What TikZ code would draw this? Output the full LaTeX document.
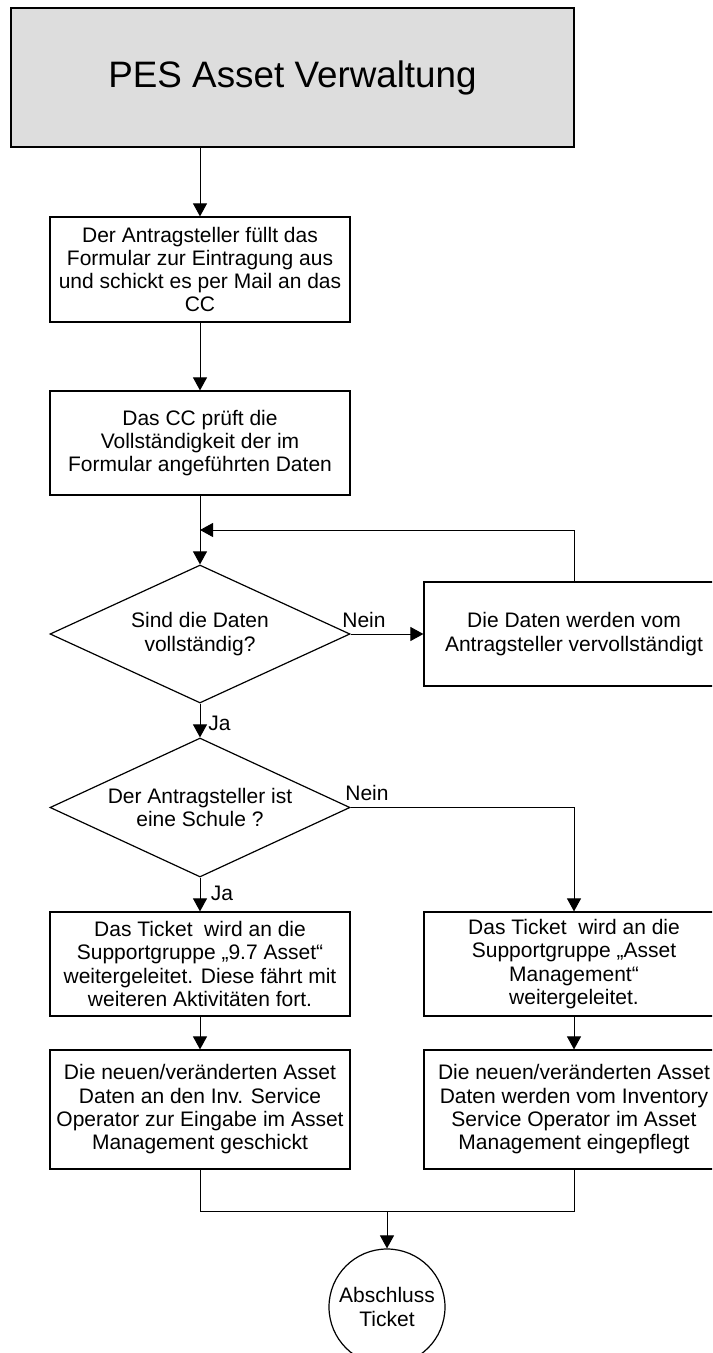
\documentclass[tikz,border=0pt]{standalone}
\usepackage{fontspec}
\setmainfont{Liberation Sans}
\usetikzlibrary{shapes.geometric,arrows.meta}
\definecolor{titlegray}{HTML}{DDDDDD}
\begin{document}
\begin{tikzpicture}[x=0.5pt,y=-0.5pt,
  every node/.style={font=\fontsize{10.5pt}{11.65pt}\selectfont},
  stepbox/.style={draw=black,line width=0.6pt,fill=white,rectangle,
    minimum width=150pt,inner sep=0pt,align=center},
  decision/.style={draw=black,line width=0.6pt,fill=white,diamond,aspect=2.16,
    minimum width=150pt,inner sep=0pt,align=center},
  endnode/.style={draw=black,line width=0.6pt,fill=white,circle,
    minimum size=58pt,inner sep=0pt,align=center},
  conn/.style={line width=0.5pt,draw=black},
  arr/.style={conn,-{Triangle[length=6.5pt,width=7pt]}},
  lbl/.style={inner sep=0pt}]
\useasboundingbox (0,0) rectangle (712,1353);
\clip (0,0) rectangle (712,1353);

% title
\node[draw=black,line width=0.6pt,fill=titlegray,minimum width=281.5pt,minimum height=69.5pt,
  inner sep=0pt,font=\fontsize{18.4pt}{22pt}\selectfont] (title) at (292.5,77.5) {PES Asset Verwaltung};

% main column
\node[stepbox,minimum height=52.5pt] (b1) at (200,269.5)
  {Der Antragsteller füllt das\\Formular zur Eintragung aus\\und schickt es per Mail an das\\CC};
\node[stepbox,minimum height=52pt] (b2) at (200,443)
  {Das CC prüft die\\Vollständigkeit der im\\Formular angeführten Daten};
\node[decision,minimum height=69pt] (d1) at (200,634)
  {Sind die Daten\\vollständig?};
\node[stepbox,minimum height=52pt] (r1) at (574,634)
  {Die Daten werden vom\\Antragsteller vervollständigt};
\node[decision,minimum height=69.5pt] (d2) at (200,807.5)
  {Der Antragsteller ist\\eine Schule ?};
\node[stepbox,minimum height=52pt] (b3) at (200,964)
  {Das Ticket~ wird an die\\Supportgruppe „9.7 Asset“\\weitergeleitet. Diese fährt mit\\weiteren Aktivitäten fort.};
\node[stepbox,minimum height=52pt] (b4) at (574,964)
  {Das Ticket~ wird an die\\Supportgruppe „Asset\\Management“\\weitergeleitet.};
\node[stepbox,minimum height=59.5pt] (b5) at (200,1109.5)
  {Die neuen/veränderten Asset\\Daten an den Inv. Service\\Operator zur Eingabe im Asset\\Management geschickt};
\node[stepbox,minimum height=59.5pt] (b6) at (574,1109.5)
  {Die neuen/veränderten Asset\\Daten werden vom Inventory\\Service Operator im Asset\\Management eingepflegt};
\node[endnode] (end) at (387,1307) {Abschluss\\Ticket};

% junction points
\coordinate (loop) at (200,530);
\coordinate (merge) at (387,1211);

% connectors
\draw[arr] (title.south -| b1.north) -- (b1.north);
\draw[arr] (b1) -- (b2);
\draw[arr] (b2) -- (d1);
\draw[arr] (r1.north) |- (loop);
\draw[arr] (d1.east) -- (r1.west);
\draw[arr] (d1) -- (d2);
\draw[arr] (d2.east) -| (b4.north);
\draw[arr] (d2) -- (b3);
\draw[arr] (b3) -- (b5);
\draw[arr] (b4) -- (b6);
\draw[conn] (b5.south) |- (merge) -| (b6.south);
\draw[arr] (merge) -- (end.north);

% branch labels
\node[lbl] (n1) at (364,620) {Nein};
\node[lbl] (j1) at (219.5,723) {Ja};
\node[lbl] (n2) at (367,793) {Nein};
\node[lbl] (j2) at (222,893) {Ja};
\end{tikzpicture}
\end{document}
